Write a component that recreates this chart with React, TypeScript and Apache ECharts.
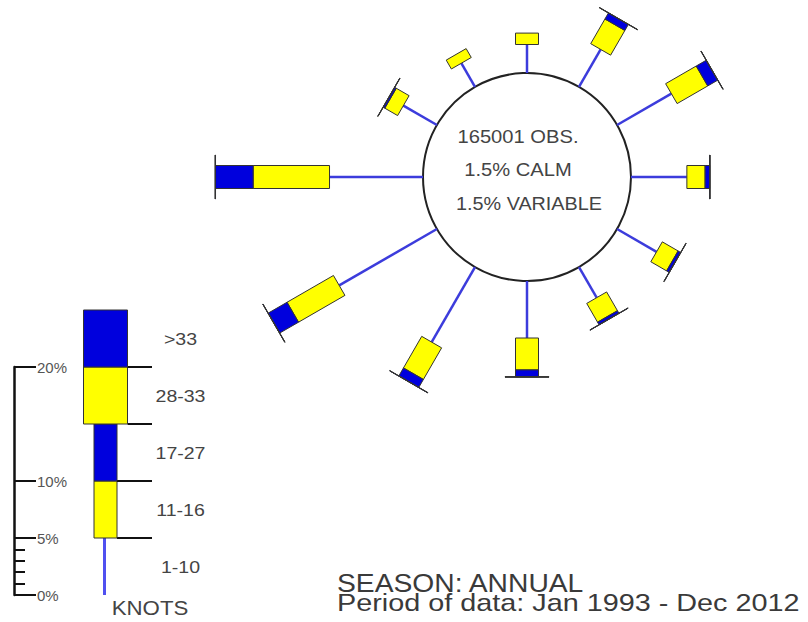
import React, { useEffect, useRef } from 'react';
import * as echarts from 'echarts';

// ---- data ----
const directions = [0, 30, 60, 90, 120, 150, 180, 210, 240, 270, 300, 330];
const speedBands = ['1-10', '11-16', '17-27', '28-33', '>33'];
const pct1to10 = [2.5, 3.8, 5.5, 4.9, 4.0, 3.1, 5.0, 7.6, 9.9, 8.2, 3.4, 2.4];
const pct11to16 = [1.0, 2.5, 3.1, 1.6, 1.6, 1.9, 2.8, 3.2, 4.7, 6.7, 1.3, 0.9];
const pct17to27 = [0, 0.6, 1.0, 0.4, 0.25, 0.25, 0.6, 0.8, 1.9, 3.3, 0.15, 0];
const pct28to33 = [0, 0.02, 0.02, 0.02, 0.02, 0.02, 0.02, 0.02, 0.02, 0.02, 0.02, 0];
const pctOver33 = [0, 0.01, 0.01, 0.01, 0.01, 0.01, 0.01, 0.01, 0.01, 0.01, 0.01, 0];
const legendSegments = [5, 5, 5, 5, 5];
const scaleMajorTicks = [0, 5, 10, 20];
const scaleMinorTicks = [1, 2, 3, 4];
const centerLines = ['165001 OBS.', '1.5% CALM', '1.5% VARIABLE'];
const footerLines = ['SEASON: ANNUAL', 'Period of data: Jan 1993 - Dec 2012'];
const unitLabel = 'KNOTS';

// ---- styles ----
const FONT = '"Liberation Sans", Arial, sans-serif';
const YELLOW = '#ffff00';
const BLUE = '#0000dd';
const LINE_BLUE = '#3c3cdc';
const EDGE = '#333333';
const bandFill = ['', YELLOW, BLUE, YELLOW, BLUE];
const halfWidth = (b: number) => (b <= 2 ? 11.5 : 22);

const bandValues = [pct1to10, pct11to16, pct17to27, pct28to33, pctOver33];
const roseData: number[][] = [];
directions.forEach((dir, i) => {
  let acc = 0;
  bandValues.forEach((vals, b) => {
    const v = vals[i];
    if (v > 0) roseData.push([dir, acc, acc + v, b]);
    acc += v;
  });
});

const legendData: number[][] = [];
{
  let acc = 0;
  legendSegments.forEach((v, b) => {
    legendData.push([0, acc, acc + v, b]);
    acc += v;
  });
}

function renderRose(_params: any, api: any) {
  const angle = api.value(0);
  const start = api.value(1);
  const end = api.value(2);
  const band = api.value(3);
  const p0 = api.coord([start, angle]);
  const p1 = api.coord([end, angle]);
  const a = api.coord([0, angle]);
  const b = api.coord([1, angle]);
  const len = Math.hypot(b[0] - a[0], b[1] - a[1]) || 1;
  const ux = (b[0] - a[0]) / len;
  const uy = (b[1] - a[1]) / len;
  const nx = -uy;
  const ny = ux;
  if (band === 0) {
    return {
      type: 'line',
      shape: { x1: p0[0], y1: p0[1], x2: p1[0], y2: p1[1] },
      style: { stroke: LINE_BLUE, lineWidth: 2.5 },
    };
  }
  const hw = halfWidth(band);
  return {
    type: 'polygon',
    shape: {
      points: [
        [p0[0] + nx * hw, p0[1] + ny * hw],
        [p1[0] + nx * hw, p1[1] + ny * hw],
        [p1[0] - nx * hw, p1[1] - ny * hw],
        [p0[0] - nx * hw, p0[1] - ny * hw],
      ],
    },
    style: { fill: bandFill[band], stroke: EDGE, lineWidth: 1 },
  };
}

function renderLegend(_params: any, api: any) {
  const start = api.value(1);
  const end = api.value(2);
  const band = api.value(3);
  const p0 = api.coord([0, start]);
  const p1 = api.coord([0, end]);
  const cx = p0[0];
  const children: any[] = [];
  if (band === 0) {
    children.push({
      type: 'line',
      shape: { x1: cx - 1, y1: p0[1], x2: cx - 1, y2: p1[1] },
      style: { stroke: '#5050f0', lineWidth: 3 },
    });
  } else {
    const hw = halfWidth(band);
    children.push({
      type: 'rect',
      shape: { x: cx - hw, y: p1[1], width: hw * 2, height: p0[1] - p1[1] },
      style: { fill: bandFill[band], stroke: EDGE, lineWidth: 1 },
    });
  }
  if (band < legendSegments.length - 1) {
    children.push({
      type: 'line',
      shape: { x1: cx + halfWidth(band + 1), y1: p1[1], x2: cx + 46.5, y2: p1[1] },
      style: { stroke: '#111', lineWidth: 2 },
    });
  }
  children.push({
    type: 'text',
    x: cx + 75,
    y: (p0[1] + p1[1]) / 2,
    scaleX: 1.15,
    style: {
      text: speedBands[band],
      fontSize: 17,
      fontFamily: FONT,
      fill: '#444',
      align: 'center',
      verticalAlign: 'middle',
      textAlign: 'center',
      textVerticalAlign: 'middle',
    },
  });
  return { type: 'group', children };
}

function textEl(text: string, x: number, y: number, size: number, sx: number, alignH: string, fill: string) {
  return {
    type: 'text',
    x,
    y,
    scaleX: sx,
    z: 100,
    style: {
      text,
      fontSize: size,
      fontFamily: FONT,
      fill,
      align: alignH,
      verticalAlign: 'middle',
      textAlign: alignH,
      textVerticalAlign: 'middle',
    },
  };
}

const option: any = {
  animation: false,
  backgroundColor: '#ffffff',
  polar: { center: [527, 177], radius: [104, 104 + 228] },
  angleAxis: { type: 'value', min: 0, max: 360, startAngle: 90, clockwise: true, show: false },
  radiusAxis: { type: 'value', min: 0, max: 20, show: false },
  grid: { left: 14, top: 367, width: 183, height: 228 },
  xAxis: { type: 'category', data: [unitLabel], show: false },
  yAxis: [
    {
      type: 'value',
      position: 'left',
      min: 0,
      max: 20,
      interval: 5,
      axisLine: { show: true, onZero: false, lineStyle: { color: '#111', width: 2.5 } },
      axisTick: { show: true, inside: true, length: 22, customValues: scaleMajorTicks, lineStyle: { color: '#111', width: 2 } },
      axisLabel: {
        show: true,
        inside: true,
        margin: 23,
        customValues: scaleMajorTicks,
        formatter: (v: number) => (scaleMajorTicks.indexOf(v) >= 0 ? v + '%' : ''),
        color: '#555',
        fontSize: 15,
        fontFamily: FONT,
      },
      splitLine: { show: false },
    },
    {
      type: 'value',
      position: 'left',
      min: 0,
      max: 20,
      interval: 1,
      axisLine: { show: false, onZero: false },
      axisTick: { show: true, inside: true, length: 11, customValues: scaleMinorTicks, lineStyle: { color: '#111', width: 2 } },
      axisLabel: { show: false },
      splitLine: { show: false },
    },
  ],
  series: [
    {
      type: 'custom',
      coordinateSystem: 'polar',
      polarIndex: 0,
      data: roseData,
      encode: { angle: 0, radius: [1, 2] },
      renderItem: renderRose,
      clip: false,
      silent: true,
      z: 3,
    },
    {
      type: 'custom',
      coordinateSystem: 'cartesian2d',
      xAxisIndex: 0,
      yAxisIndex: 0,
      data: legendData,
      encode: { x: 0, y: [1, 2] },
      renderItem: renderLegend,
      clip: false,
      silent: true,
      z: 3,
    },
  ],
  graphic: {
    elements: [
      {
        type: 'circle',
        z: 1,
        shape: { cx: 527, cy: 177, r: 104 },
        style: { fill: '#ffffff', stroke: '#222', lineWidth: 2 },
      },
      textEl(centerLines[0], 518, 137, 18, 1.12, 'center', '#444'),
      textEl(centerLines[1], 518, 170, 18, 1.12, 'center', '#444'),
      textEl(centerLines[2], 529, 204, 18, 1.1, 'center', '#444'),
      textEl(footerLines[0], 337, 584, 25, 1.13, 'left', '#3a3a3a'),
      textEl(footerLines[1], 337, 602.5, 24, 1.2, 'left', '#3a3a3a'),
      textEl(unitLabel, 150, 607.5, 21, 1.06, 'center', '#444'),
    ],
  },
};

export default function App() {
  const ref = useRef<HTMLDivElement>(null);
  useEffect(() => {
    if (!ref.current) return;
    const chart = echarts.init(ref.current, undefined, { renderer: 'svg' });
    chart.setOption(option);
    return () => chart.dispose();
  }, []);
  return (
    <div
      ref={ref}
      style={{ position: 'fixed', left: 0, top: 0, width: 808, height: 622, background: '#ffffff' }}
    />
  );
}
